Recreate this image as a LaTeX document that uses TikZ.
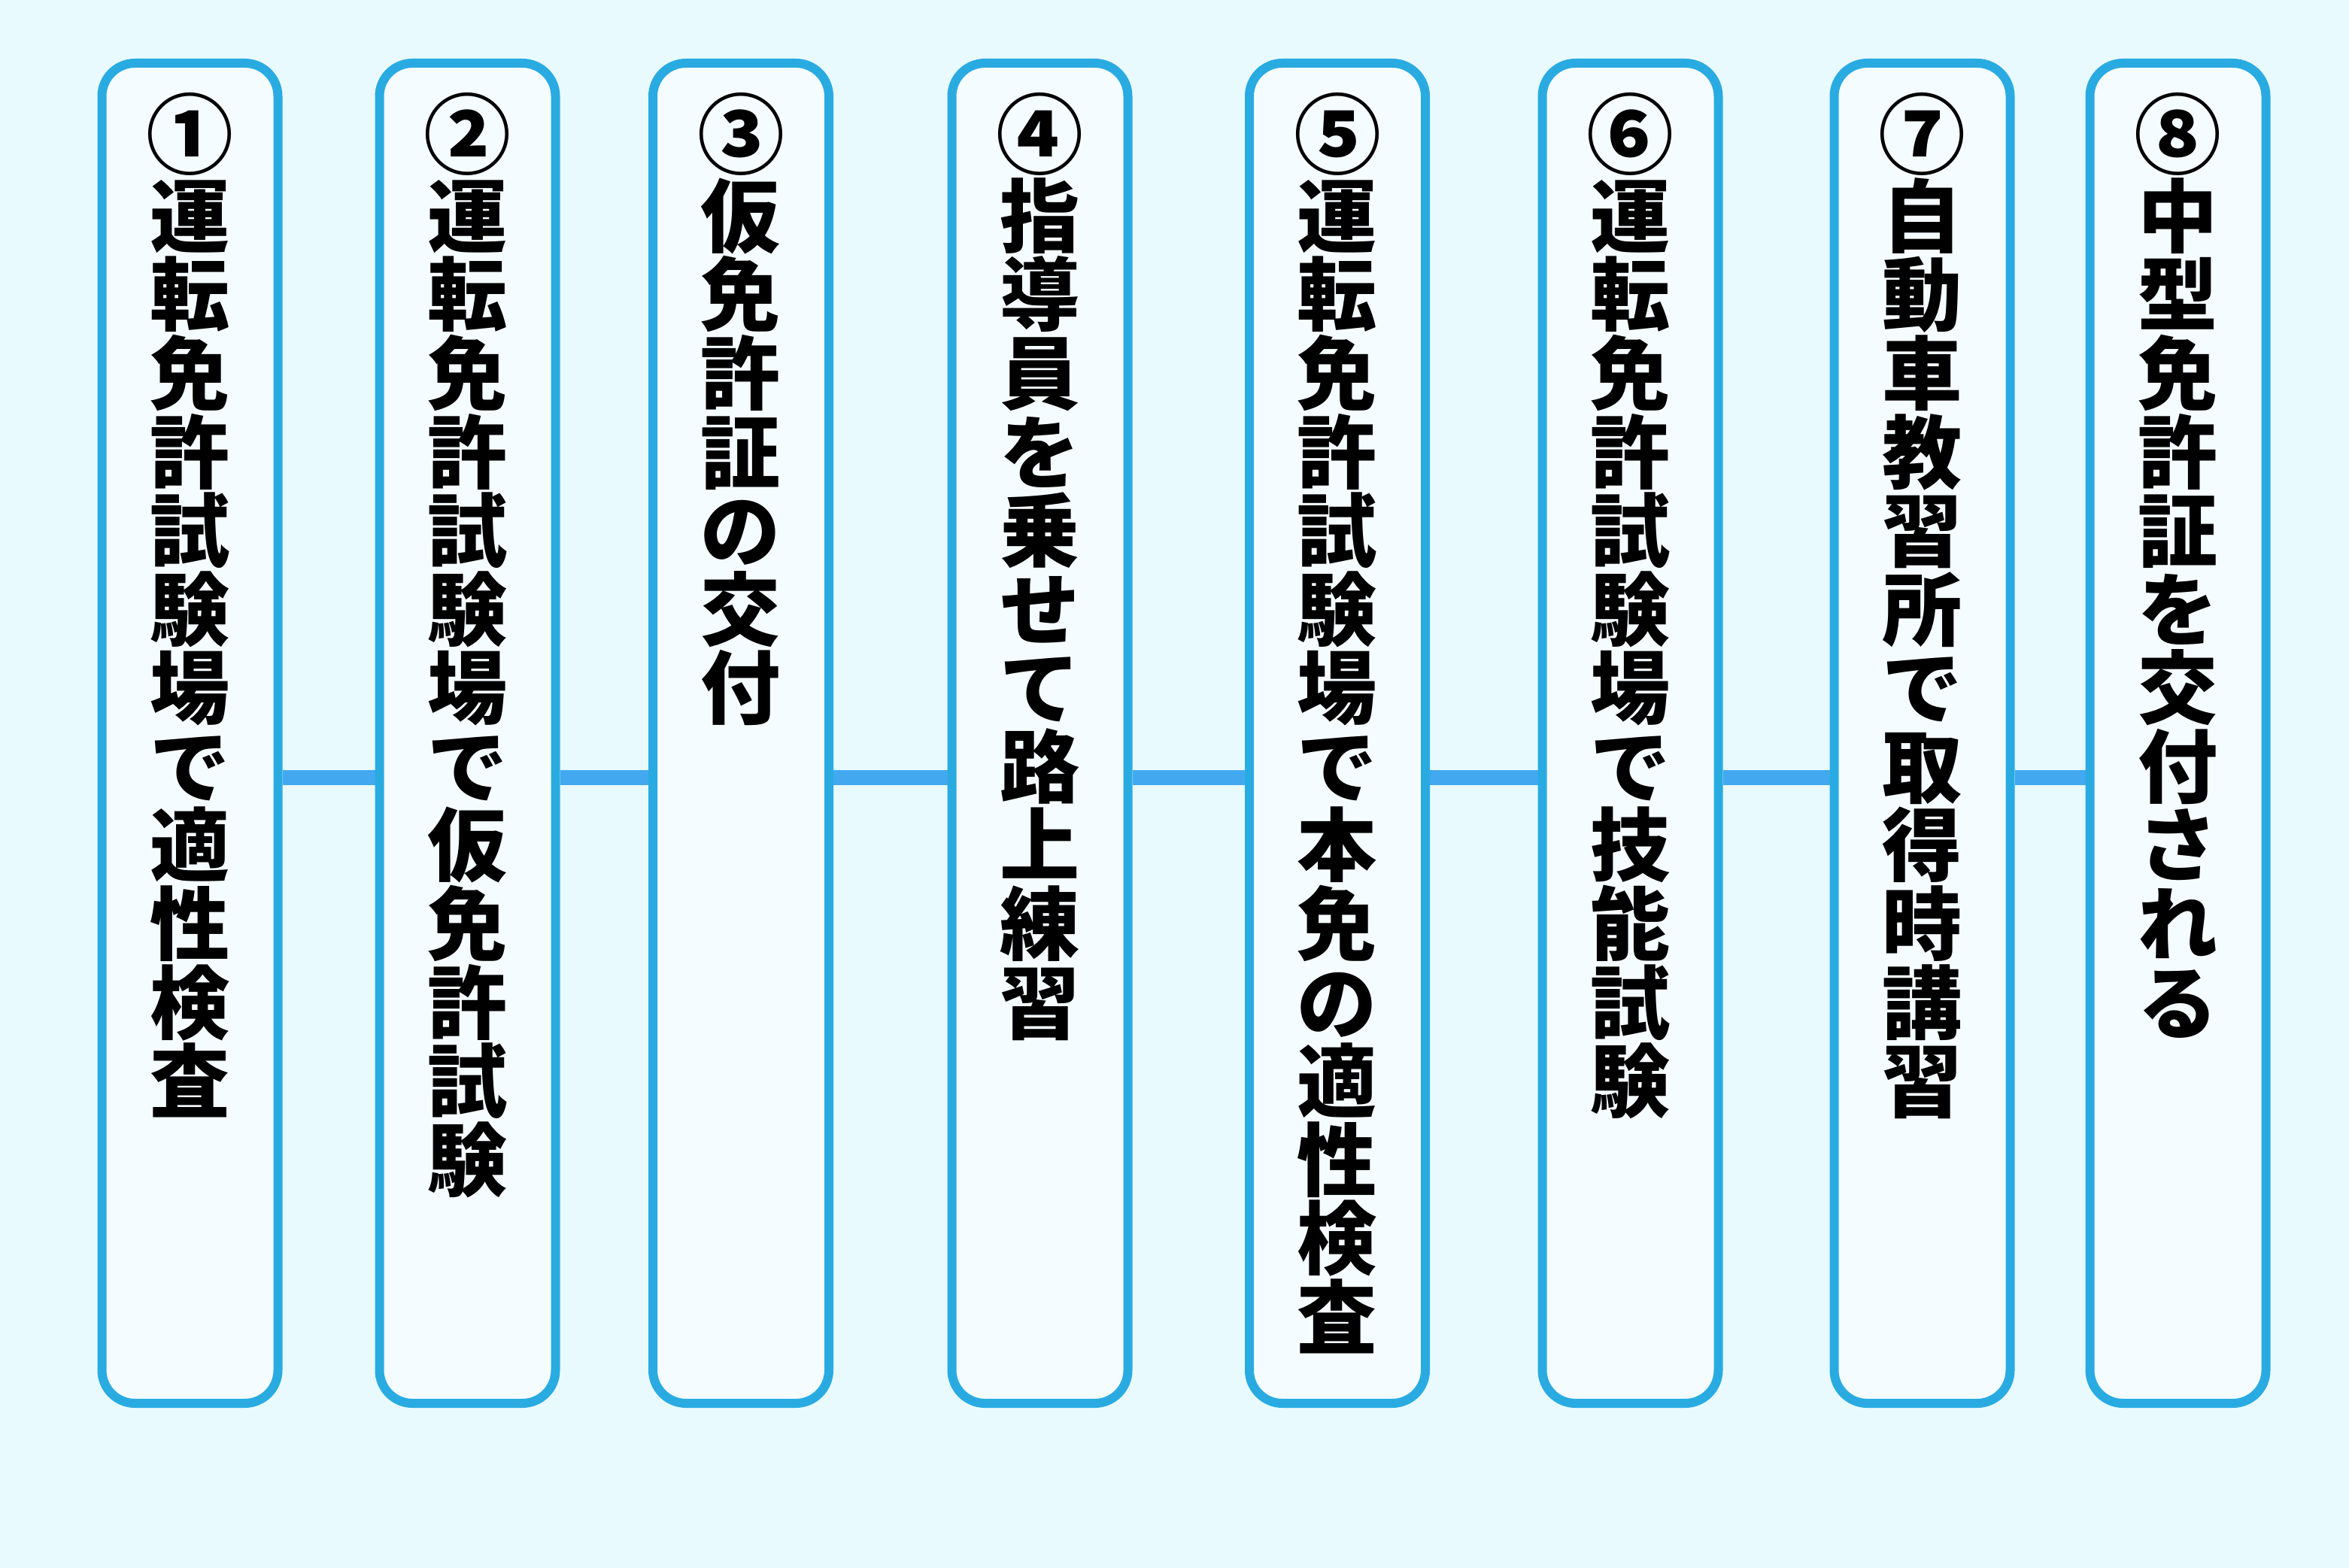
\documentclass[tikz,border=0pt]{standalone}
\usepackage{fontspec}
\newfontfamily\jpfont{Noto Sans CJK JP Black}
\usetikzlibrary{positioning,backgrounds}
\definecolor{bgblue}{HTML}{E9FAFE}
\definecolor{boxfill}{HTML}{F5FCFF}
\definecolor{boxline}{HTML}{29ABE2}
\definecolor{linkblue}{HTML}{42A9F1}
% stack the characters of a label one under another, the circled number a bit larger
\def\vchars#1#2{{\fontsize{33pt}{29.75pt}\selectfont#1}\\\vcharsi#2\relax}
\def\vcharsi#1{\ifx\relax#1\else#1\\\expandafter\vcharsi\fi}
\begin{document}
\begin{tikzpicture}[
        stepbox/.style={draw=boxline,fill=boxfill,line width=0.12cm,rounded corners=0.44cm,
          minimum width=2.34cm,minimum height=17.82cm,inner sep=0pt},
        steptext/.style={inner sep=0pt,align=center,
          font=\jpfont\fontsize{30.2pt}{29.75pt}\selectfont},
        link/.style={linkblue,line width=0.2cm}
        ]

    \node (s1) at (2.525, -9.75) [stepbox] {};
    \node (s2) at (6.215, -9.75) [stepbox] {};
    \node (s3) at (9.85, -9.75) [stepbox] {};
    \node (s4) at (13.825, -9.75) [stepbox] {};
    \node (s5) at (17.78, -9.75) [stepbox] {};
    \node (s6) at (21.675, -9.75) [stepbox] {};
    \node (s7) at (25.555, -9.75) [stepbox] {};
    \node (s8) at (28.955, -9.75) [stepbox] {};

    \node (t1) [steptext, below=0.45 of s1.north] {\vchars{①}{運転免許試験場で適性検査}};
    \node (t2) [steptext, below=0.45 of s2.north] {\vchars{②}{運転免許試験場で仮免許試験}};
    \node (t3) [steptext, below=0.45 of s3.north] {\vchars{③}{仮免許証の交付}};
    \node (t4) [steptext, below=0.45 of s4.north] {\vchars{④}{指導員を乗せて路上練習}};
    \node (t5) [steptext, below=0.45 of s5.north] {\vchars{⑤}{運転免許試験場で本免の適性検査}};
    \node (t6) [steptext, below=0.45 of s6.north] {\vchars{⑥}{運転免許試験場で技能試験}};
    \node (t7) [steptext, below=0.45 of s7.north] {\vchars{⑦}{自動車教習所で取得時講習}};
    \node (t8) [steptext, below=0.45 of s8.north] {\vchars{⑧}{中型免許証を交付される}};

    \begin{scope}[on background layer]
    \fill[bgblue] (0,0) rectangle (31.23,-20.85);
    \draw[link] ([yshift=-0.59cm]s1.east) to ([yshift=-0.59cm]s2.west);
    \draw[link] ([yshift=-0.59cm]s2.east) to ([yshift=-0.59cm]s3.west);
    \draw[link] ([yshift=-0.59cm]s3.east) to ([yshift=-0.59cm]s4.west);
    \draw[link] ([yshift=-0.59cm]s4.east) to ([yshift=-0.59cm]s5.west);
    \draw[link] ([yshift=-0.59cm]s5.east) to ([yshift=-0.59cm]s6.west);
    \draw[link] ([yshift=-0.59cm]s6.east) to ([yshift=-0.59cm]s7.west);
    \draw[link] ([yshift=-0.59cm]s7.east) to ([yshift=-0.59cm]s8.west);
    \end{scope}
\end{tikzpicture}
\end{document}
